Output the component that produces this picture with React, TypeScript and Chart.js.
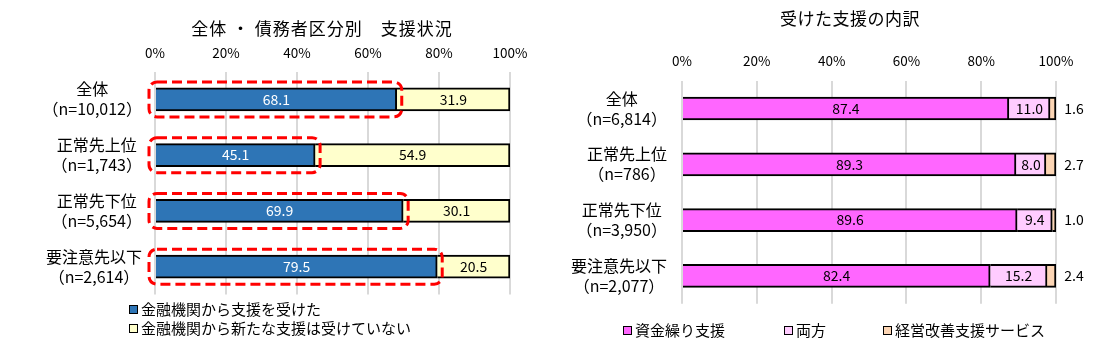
import React, { useEffect, useRef } from "react";
import { Chart, registerables } from "chart.js";

Chart.register(...registerables);

const FONT = '"Noto Sans CJK JP", "Noto Sans", sans-serif';

// ---- data ----
const leftTitle = "全体 ・ 債務者区分別　支援状況";
const leftCategories = ["全体", "正常先上位", "正常先下位", "要注意先以下"];
const leftCounts = ["（n=10,012）", "（n=1,743）", "（n=5,654）", "（n=2,614）"];
const leftReceived = [68.1, 45.1, 69.9, 79.5];
const leftNotReceived = [31.9, 54.9, 30.1, 20.5];
const leftSeriesNames = ["金融機関から支援を受けた", "金融機関から新たな支援は受けていない"];

const rightTitle = "受けた支援の内訳";
const rightCategories = ["全体", "正常先上位", "正常先下位", "要注意先以下"];
const rightCounts = ["（n=6,814）", "（n=786）", "（n=3,950）", "（n=2,077）"];
const rightFunding = [87.4, 89.3, 89.6, 82.4];
const rightBoth = [11.0, 8.0, 9.4, 15.2];
const rightManagement = [1.6, 2.7, 1.0, 2.4];
const rightSeriesNames = ["資金繰り支援", "両方", "経営改善支援サービス"];

const tickValues = [0, 20, 40, 60, 80, 100];

const BLUE = "#2E75B6";
const YELLOW = "#FFFFCC";
const MAGENTA = "#FF66FF";
const PINK = "#FFCCFF";
const PEACH = "#FCD5B4";
const GRID = "#D9D9D9";

type PluginOpts = {
  names: string[];
  counts: string[];
  labelGap: number;
  labelColors: string[];
  outsideLast: boolean;
  dashed: boolean;
};

function makePlugin(o: PluginOpts) {
  return {
    id: "customLabels",
    afterDatasetsDraw(chart: any) {
      const ctx = chart.ctx as CanvasRenderingContext2D;
      const area = chart.chartArea;
      const y = chart.scales.y;
      ctx.save();
      // red dashed frames around first series
      if (o.dashed) {
        const meta = chart.getDatasetMeta(0);
        ctx.strokeStyle = "#FF0000";
        ctx.lineWidth = 3;
        ctx.setLineDash([10, 5]);
        meta.data.forEach((el: any) => {
          const h = el.height;
          const x0 = area.left - 6;
          const x1 = el.x + 5;
          const y0 = el.y - h / 2 - 6;
          const y1 = el.y + h / 2 + 6;
          ctx.beginPath();
          (ctx as any).roundRect(x0, y0, x1 - x0, y1 - y0, 8);
          ctx.stroke();
        });
        ctx.setLineDash([]);
      }
      // category labels
      ctx.fillStyle = "#000";
      ctx.font = `16px ${FONT}`;
      ctx.textAlign = "center";
      ctx.textBaseline = "middle";
      o.names.forEach((name, i) => {
        const cy = y.getPixelForValue(i);
        const w = Math.max(ctx.measureText(name).width, ctx.measureText(o.counts[i]).width);
        const cx = area.left - o.labelGap - w / 2;
        ctx.fillText(name, cx, cy - 10);
        ctx.fillText(o.counts[i], cx, cy + 10);
      });
      // value labels
      ctx.font = `14px ${FONT}`;
      const n = chart.data.datasets.length;
      chart.data.datasets.forEach((ds: any, di: number) => {
        const meta = chart.getDatasetMeta(di);
        meta.data.forEach((el: any, i: number) => {
          const v = ds.data[i] as number;
          const txt = v.toFixed(1);
          ctx.fillStyle = o.labelColors[di];
          if (o.outsideLast && di === n - 1) {
            ctx.fillText(txt, area.right + 18, el.y);
          } else {
            ctx.fillText(txt, (el.x + el.base) / 2, el.y);
          }
        });
      });
      ctx.restore();
    },
  };
}

function makeConfig(
  labels: string[],
  datasets: any[],
  padding: { left: number; right: number; top: number; bottom: number },
  tickPad: number,
  plugin: any
) {
  return {
    type: "bar" as const,
    data: { labels, datasets },
    options: {
      indexAxis: "y" as const,
      animation: false as const,
      responsive: false,
      maintainAspectRatio: false,
      layout: { padding },
      plugins: { legend: { display: false }, title: { display: false }, tooltip: { enabled: false } },
      scales: {
        x: {
          position: "top" as const,
          stacked: true,
          min: 0,
          max: 100,
          afterBuildTicks: (s: any) => {
            s.ticks = tickValues.map((v) => ({ value: v }));
          },
          afterFit: (s: any) => {
            s.height = 28;
          },
          ticks: {
            callback: (v: any) => `${v}%`,
            color: "#000",
            font: { family: FONT, size: 13.5 },
            padding: tickPad,
            maxRotation: 0,
          },
          grid: { color: GRID, lineWidth: 2, drawTicks: false },
          border: { display: false },
        },
        y: {
          display: false,
          stacked: true,
        },
      },
    },
    plugins: [plugin],
  };
}

function ChartCanvas({ config, width, height, left }: { config: any; width: number; height: number; left: number }) {
  const ref = useRef<HTMLCanvasElement | null>(null);
  useEffect(() => {
    if (!ref.current) return;
    const chart = new Chart(ref.current, config);
    return () => chart.destroy();
  }, []);
  return (
    <canvas
      ref={ref}
      width={width}
      height={height}
      style={{ position: "absolute", left, top: 0, width, height }}
    />
  );
}

function Marker({ color }: { color: string }) {
  return (
    <span
      style={{
        display: "inline-block",
        width: 9,
        height: 9,
        boxSizing: "border-box",
        border: "1.5px solid #000",
        background: color,
        marginRight: 3,
        verticalAlign: "middle",
        position: "relative",
        top: -1,
      }}
    />
  );
}

export default function App() {
  const leftConfig = makeConfig(
    leftCategories,
    [
      { label: leftSeriesNames[0], data: leftReceived, backgroundColor: BLUE, borderColor: "#000", borderWidth: 2, barThickness: 23 },
      { label: leftSeriesNames[1], data: leftNotReceived, backgroundColor: YELLOW, borderColor: "#000", borderWidth: 2, barThickness: 23 },
    ],
    { left: 155, right: 50, top: 43.5, bottom: 48.5 },
    11,
    makePlugin({
      names: leftCategories,
      counts: leftCounts,
      labelGap: 13,
      labelColors: ["#FFFFFF", "#000000"],
      outsideLast: false,
      dashed: true,
    })
  );
  const rightConfig = makeConfig(
    rightCategories,
    [
      { label: rightSeriesNames[0], data: rightFunding, backgroundColor: MAGENTA, borderColor: "#000", borderWidth: 2, barThickness: 23 },
      { label: rightSeriesNames[1], data: rightBoth, backgroundColor: PINK, borderColor: "#000", borderWidth: 2, barThickness: 23 },
      { label: rightSeriesNames[2], data: rightManagement, backgroundColor: PEACH, borderColor: "#000", borderWidth: 2, barThickness: 23 },
    ],
    { left: 122, right: 51, top: 52.6, bottom: 39.2 },
    12,
    makePlugin({
      names: rightCategories,
      counts: rightCounts,
      labelGap: 15,
      labelColors: ["#000000", "#000000", "#000000"],
      outsideLast: true,
      dashed: false,
    })
  );

  const textStyle: React.CSSProperties = { fontFamily: FONT, fontSize: 15, color: "#000", whiteSpace: "nowrap", lineHeight: "19px" };

  return (
    <div style={{ position: "fixed", left: 0, top: 0, width: 1107, height: 343, background: "#fff", overflow: "hidden" }}>
      <ChartCanvas config={leftConfig} width={560} height={343} left={0} />
      <ChartCanvas config={rightConfig} width={547} height={343} left={560} />
      <div style={{ ...textStyle, fontSize: 17, letterSpacing: 1, position: "absolute", left: 122, width: 400, top: 18, textAlign: "center" }}>{leftTitle}</div>
      <div style={{ ...textStyle, fontSize: 17, letterSpacing: 0.5, position: "absolute", left: 650, width: 400, top: 8, textAlign: "center" }}>{rightTitle}</div>
      <div style={{ ...textStyle, position: "absolute", left: 129, top: 299 }}>
        <div><Marker color={BLUE} />{leftSeriesNames[0]}</div>
        <div><Marker color={YELLOW} />{leftSeriesNames[1]}</div>
      </div>
      <div style={{ ...textStyle, position: "absolute", left: 623, top: 320 }}><Marker color={MAGENTA} />{rightSeriesNames[0]}</div>
      <div style={{ ...textStyle, position: "absolute", left: 784, top: 320 }}><Marker color={PINK} />{rightSeriesNames[1]}</div>
      <div style={{ ...textStyle, position: "absolute", left: 883, top: 320 }}><Marker color={PEACH} />{rightSeriesNames[2]}</div>
    </div>
  );
}
